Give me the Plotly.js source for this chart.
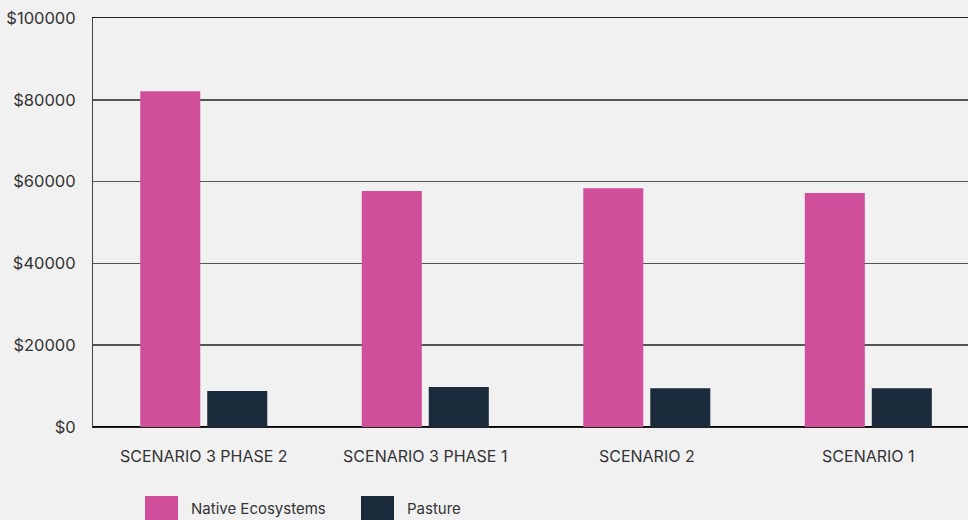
<!DOCTYPE html>
<html><head><meta charset="utf-8">
<script src="https://cdn.plot.ly/plotly-3.0.1.min.js"></script>
<style>body{margin:0;background:#f1f1f1}#c{width:968px;height:520px}</style>
</head><body><div id="c"></div>
<script>
const categories = ["SCENARIO 3 PHASE 2", "SCENARIO 3 PHASE 1", "SCENARIO 2", "SCENARIO 1"];
const seriesNames = ["Native Ecosystems", "Pasture"];
const nativeValues = [82100, 57700, 58400, 57200];
const pastureValues = [8800, 9800, 9500, 9500];
const yTickValues = [0, 20000, 40000, 60000, 80000, 100000];
const yTickLabels = ["$0", "$20000", "$40000", "$60000", "$80000", "$100000"];
const colors = ["#cf4f9b", "#1c2b3b"];

const traces = [
  {type: "bar", name: seriesNames[0], x: categories, y: nativeValues, marker: {color: colors[0]}, showlegend: false, hoverinfo: "y"},
  {type: "bar", name: seriesNames[1], x: categories, y: pastureValues, marker: {color: colors[1]}, showlegend: false, hoverinfo: "y"}
];

const legendX = [145, 361];
const shapes = [], annotations = [];
seriesNames.forEach((n, i) => {
  shapes.push({type: "rect", xref: "paper", yref: "paper",
    x0: (legendX[i] - 93) / 875, x1: (legendX[i] + 33 - 93) / 875,
    y0: -(496 - 427) / 409, y1: -(520 - 427) / 409,
    fillcolor: colors[i], line: {width: 0}});
  annotations.push({xref: "paper", yref: "paper", x: (legendX[i] + 44 - 93) / 875, y: -(508 - 427) / 409,
    xanchor: "left", yanchor: "middle", showarrow: false, text: n,
    font: {family: "Inter, sans-serif", size: 15, color: "#333"}});
});

const layout = {
  width: 968, height: 520,
  margin: {l: 93, r: 0, t: 18, b: 93},
  paper_bgcolor: "#f1f1f1", plot_bgcolor: "#f1f1f1",
  font: {family: "Inter, sans-serif", size: 14, color: "#333"},
  barmode: "group", bargap: 0.395, bargroupgap: 0.104,
  xaxis: {range: [-0.5, 3.45], showgrid: false, showline: true, mirror: true, linecolor: "#222", linewidth: 1,
    ticks: "", ticklabelstandoff: 15, tickfont: {size: 16, color: "#333"}},
  yaxis: {range: [0, 100000], tickvals: yTickValues, ticktext: yTickLabels,
    showgrid: true, gridcolor: "#555", gridwidth: 1.5,
    zeroline: true, zerolinecolor: "#000", zerolinewidth: 2.5,
    showline: true, linecolor: "#444", linewidth: 1,
    ticks: "", ticklabelstandoff: 13, tickfont: {size: 16.5, color: "#333"}},
  shapes: shapes, annotations: annotations
};
Plotly.newPlot("c", traces, layout, {displayModeBar: false, staticPlot: true});
</script></body></html>
